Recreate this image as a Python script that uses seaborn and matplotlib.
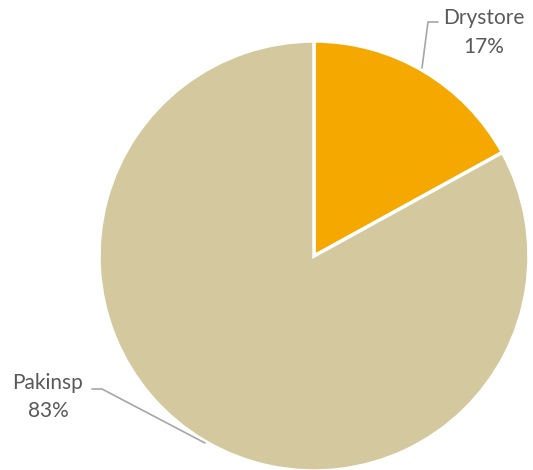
import seaborn
import matplotlib.pyplot as plt

seaborn.set_style(style='white')
plt.rcParams['font.family'] = ['Lato', 'DejaVu Sans']

labels = ['Drystore', 'Pakinsp']
shares = [17, 83]
colors = ['#F5A800', '#D4C99E']

fig = plt.figure(figsize=(5.33, 4.70), dpi=100)
ax = fig.add_axes([0, 0, 1, 1])

H = 470
cx, cy, r = 314, H - 256, 215
ax.pie(shares, colors=colors, startangle=90, counterclock=False,
       center=(cx, cy), radius=r, frame=True,
       wedgeprops={'edgecolor': 'white', 'linewidth': 2.5})
ax.set_xlim(0, 533)
ax.set_ylim(0, 470)
ax.set_axis_off()

txt = '#595959'
line = '#A6A6A6'
fs = 15
# Drystore label
ax.plot([422, 428, 438], [H - 68, H - 22, H - 22], color=line, lw=1.2)
ax.text(484, H - 18, labels[0], ha='center', va='center', fontsize=fs, color=txt)
ax.text(484, H - 47, f'{shares[0]}%', ha='center', va='center', fontsize=fs, color=txt)
# Pakinsp label
ax.plot([92, 102, 205], [H - 389, H - 389, H - 443], color=line, lw=1.2)
ax.text(48, H - 383, labels[1], ha='center', va='center', fontsize=fs, color=txt)
ax.text(48, H - 411, f'{shares[1]}%', ha='center', va='center', fontsize=fs, color=txt)

plt.savefig('out.png', dpi=100)
